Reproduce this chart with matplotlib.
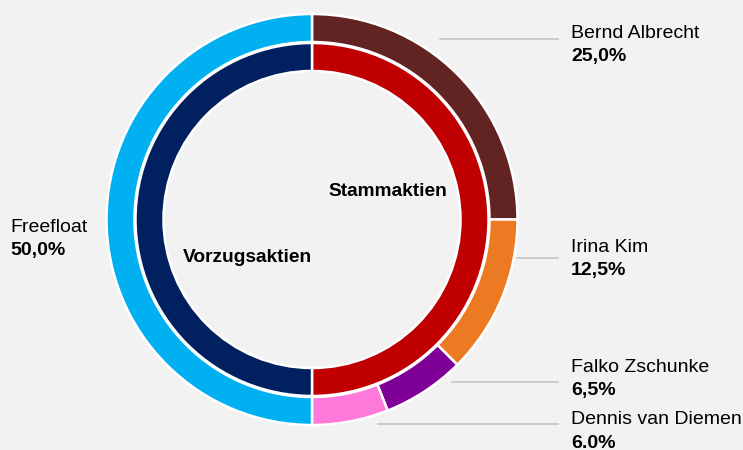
import matplotlib.pyplot as plt

plt.rcParams['font.family'] = ['Liberation Sans', 'DejaVu Sans']

# outer ring: shareholders
holders = ['Bernd Albrecht', 'Irina Kim', 'Falko Zschunke', 'Dennis van Diemen', 'Freefloat']
shares = [25.0, 12.5, 6.5, 6.0, 50.0]
holder_colors = ['#622423', '#EC7A23', '#7F0096', '#FF79DA', '#00B0F0']
pct_labels = ['25,0%', '12,5%', '6,5%', '6.0%', '50,0%']

# inner ring: share classes
classes = ['Stammaktien', 'Vorzugsaktien']
class_shares = [50.0, 50.0]
class_colors = ['#C00000', '#002060']

bg = '#F2F2F2'
fig = plt.figure(figsize=(7.43, 4.5), dpi=100, facecolor=bg)
ax = fig.add_axes([0, 0, 1, 1])
ax.set_facecolor(bg)

cx, cy = 312, 450 - 219.5
ax.pie(shares, radius=205.5, center=(cx, cy), colors=holder_colors,
       startangle=90, counterclock=False,
       wedgeprops=dict(width=28, edgecolor='white', linewidth=1.8))
ax.pie(class_shares, radius=176.5, center=(cx, cy), colors=class_colors,
       startangle=90, counterclock=False,
       wedgeprops=dict(width=28, edgecolor='white', linewidth=1.8))

ax.text(388, 450 - 192, classes[0], ha='center', va='center', fontsize=13.8, fontweight='bold')
ax.text(247, 450 - 257, classes[1], ha='center', va='center', fontsize=13.8, fontweight='bold')

# label positions (name y in px, line start x, line y)
label_pos = [(33, 440, 39), (247, 517, 258), (367, 452, 382), (419, 378, 424)]
for i, (ny, lx, ly) in enumerate(label_pos):
    ax.plot([lx, 558], [450 - ly, 450 - ly], color='#C0C0C0', linewidth=1.1)
    ax.text(571, 450 - ny, holders[i], ha='left', va='center', fontsize=14)
    ax.text(571, 450 - ny - 24, pct_labels[i], ha='left', va='center',
            fontsize=14, fontweight='bold')

ax.text(10, 450 - 227, holders[4], ha='left', va='center', fontsize=14)
ax.text(10, 450 - 250, pct_labels[4], ha='left', va='center', fontsize=14, fontweight='bold')

ax.set_xlim(0, 743)
ax.set_ylim(0, 450)
ax.set_aspect('equal')
ax.axis('off')

fig.savefig('out.png', dpi=100, facecolor=bg)
